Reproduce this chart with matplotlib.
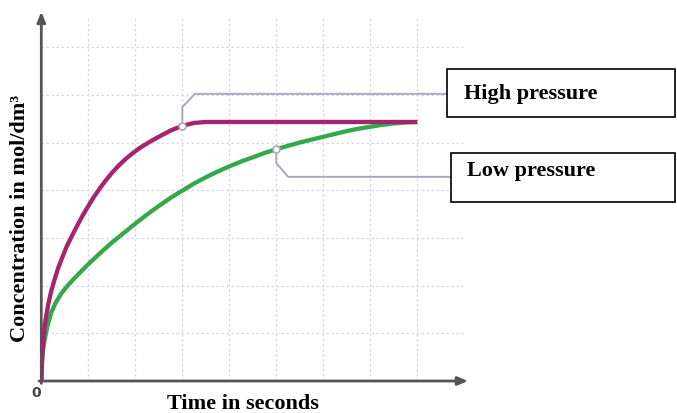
import matplotlib
matplotlib.use("Agg")
import matplotlib.pyplot as plt
from matplotlib.patches import Rectangle

# values (x and y in grid units)
high_x = [0, 0.01, 0.03, 0.07, 0.11, 0.15, 0.21, 0.28, 0.36, 0.45, 0.54, 0.64,
          0.76, 0.88, 1.0, 1.12, 1.24, 1.35, 1.5, 1.65, 1.8, 1.95, 2.1, 2.3,
          2.5, 2.75, 3.0, 3.25, 3.5, 4.0, 5.0, 6.0, 7.0, 8.0]
high_y = [0, 0.35, 0.7, 1.14, 1.4, 1.62, 1.88, 2.12, 2.37, 2.6, 2.82, 3.02,
          3.25, 3.47, 3.67, 3.86, 4.03, 4.18, 4.36, 4.52, 4.66, 4.78, 4.89, 5.01,
          5.12, 5.25, 5.35, 5.41, 5.43, 5.43, 5.43, 5.43, 5.43, 5.43]

low_x = [0, 0.01, 0.03, 0.07, 0.13, 0.21, 0.31, 0.43, 0.56, 0.7, 0.85, 1.0,
         1.25, 1.5, 1.75, 2.0, 2.25, 2.5, 2.75, 3.0, 3.25, 3.5, 3.75, 4.0,
         4.25, 4.5, 4.75, 5.0, 5.25, 5.5, 5.75, 6.0, 6.25, 6.5, 6.75, 7.0,
         7.25, 7.5, 7.75, 8.0]
low_y = [0, 0.3, 0.6, 0.86, 1.15, 1.43, 1.65, 1.84, 2.0, 2.15, 2.3, 2.45,
         2.68, 2.9, 3.1, 3.3, 3.49, 3.67, 3.84, 3.99, 4.14, 4.27, 4.39, 4.5,
         4.6, 4.69, 4.78, 4.86, 4.93, 5.0, 5.06, 5.12, 5.18, 5.24, 5.29, 5.33,
         5.37, 5.4, 5.42, 5.43]

labels = ["High pressure", "Low pressure"]
label_at = [3.0, 5.0]          # x where each callout touches its curve
x_label = "Time in seconds"
y_label = "Concentration in mol/dm\u00b3"

W, H = 677, 413
fig = plt.figure(figsize=(W / 100, H / 100), dpi=100)

# pixel geometry of the plot area
x0, y0 = 41.3, 381.0
dx, dy = 47.0, 47.7
xmax, ymax = 9.1, 7.75
ax = fig.add_axes([x0 / W, (H - y0) / H, xmax * dx / W, ymax * dy / H])
ax.set_xlim(0, xmax)
ax.set_ylim(0, ymax)
ax.axis("off")

grid_c = "#d6d6ea"
ax.vlines(range(1, 9), 0, 7.63, colors=grid_c, lw=0.9, linestyles=(0, (2, 2)), zorder=1)
ax.hlines(range(1, 8), 0, 8.97, colors=grid_c, lw=0.9, linestyles=(0, (2, 2)), zorder=1)

axis_c = "#555555"
ax.annotate("", xy=(9.08, 0), xytext=(-0.05, 0), annotation_clip=False,
            arrowprops=dict(arrowstyle="-|>,head_length=0.6,head_width=0.25",
                            color=axis_c, lw=2, shrinkA=0, shrinkB=0))
ax.annotate("", xy=(0, 7.74), xytext=(0, -0.05), annotation_clip=False,
            arrowprops=dict(arrowstyle="-|>,head_length=0.6,head_width=0.25",
                            color=axis_c, lw=2, shrinkA=0, shrinkB=0))

ax.plot(low_x, low_y, color="#35a84c", lw=3.1, solid_capstyle="butt",
        solid_joinstyle="round", zorder=3)
ax.plot(high_x, high_y, color="#a6246c", lw=3.1, solid_capstyle="butt",
        solid_joinstyle="round", zorder=4)

# callout connectors
line_c = "#a9a9bb"
hx = label_at[0]
hy = high_y[high_x.index(hx)]
ax.plot([hx, hx, hx + 0.27, 8.63], [hy, hy + 0.39, hy + 0.67, hy + 0.67],
        color=line_c, lw=1.4, zorder=5, clip_on=False)
ax.plot(hx, hy, "o", ms=5, mfc="white", mec=line_c, mew=1.2, zorder=6)

lx = label_at[1]
ly = low_y[low_x.index(lx)]
ax.plot([lx, lx, lx + 0.25, 8.72], [ly, ly - 0.29, ly - 0.58, ly - 0.58],
        color=line_c, lw=1.4, zorder=5, clip_on=False)
ax.plot(lx, ly, "o", ms=5, mfc="white", mec=line_c, mew=1.2, zorder=6)

# overlay in pixel coordinates for boxes and labels
ov = fig.add_axes([0, 0, 1, 1])
ov.set_xlim(0, W)
ov.set_ylim(H, 0)
ov.axis("off")
ov.patch.set_alpha(0)

font = dict(family="Liberation Serif", weight="bold", fontsize=16, color="black")
ov.add_patch(Rectangle((447, 69), 228, 48, fill=True, fc="white", ec="black", lw=1.2))
ov.add_patch(Rectangle((451, 153), 224, 49, fill=True, fc="white", ec="black", lw=1.2))
ov.text(464, 94, labels[0], ha="left", va="center", **font)
ov.text(467, 171, labels[1], ha="left", va="center", **font)

ov.text(243, 404, x_label, ha="center", va="center", **font)
ov.text(20, 218, y_label, ha="center", va="center", rotation=90, **font)
ov.text(36, 393, "0", ha="center", va="center", fontsize=10, weight="bold",
        color="#444444", family="DejaVu Sans")

fig.savefig("out.png", dpi=100)
